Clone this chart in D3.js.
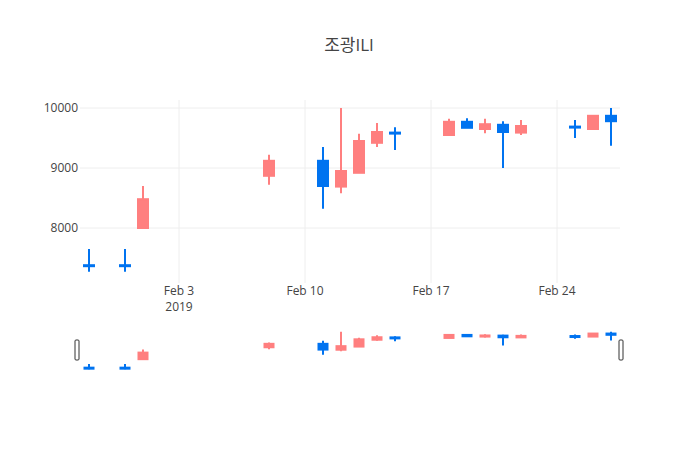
<!DOCTYPE html>
<html>
<head>
<meta charset="utf-8">
<script src="https://cdn.jsdelivr.net/npm/d3@7"></script>
<style>
body { margin: 0; background: #fff; }
text { font-family: "Open Sans", "Noto Sans CJK KR", sans-serif; }
</style>
</head>
<body>
<div id="chart"></div>
<script>
var dates = ["2019-01-29", "2019-01-31", "2019-02-01", "2019-02-08", "2019-02-11", "2019-02-12",
    "2019-02-13", "2019-02-14", "2019-02-15", "2019-02-18", "2019-02-19", "2019-02-20",
    "2019-02-21", "2019-02-22", "2019-02-25", "2019-02-26", "2019-02-27"];
var open =  [7380, 7380, 8000, 8870, 9120, 8690, 8920, 9420, 9590, 9550, 9770, 9650, 9720, 9590, 9690, 9650, 9870];
var high =  [7650, 7650, 8700, 9220, 9350, 10000, 9570, 9750, 9680, 9820, 9830, 9820, 9780, 9800, 9800, 9880, 10000];
var low =   [7270, 7270, 8000, 8720, 8320, 8580, 8920, 9350, 9300, 9540, 9670, 9580, 9000, 9550, 9500, 9640, 9370];
var close = [7370, 7370, 8480, 9120, 8700, 8950, 9450, 9600, 9580, 9770, 9670, 9730, 9600, 9700, 9680, 9870, 9780];
var yTicks = [8000, 9000, 10000];
var xTicks = ["2019-02-03", "2019-02-10", "2019-02-17", "2019-02-24"];

var width = 700, height = 450;
var upColor = "#ff7f7f", downColor = "#0073f0";
var parse = d3.timeParse("%Y-%m-%d");

var data = dates.map(function (d, i) {
    return { date: parse(d), o: open[i], h: high[i], l: low[i], c: close[i] };
});

var svg = d3.select("#chart").append("svg")
    .attr("width", width)
    .attr("height", height);

var x = d3.scaleTime()
    .domain([new Date(2019, 0, 28, 12), new Date(2019, 1, 27, 12)])
    .range([80, 620]);
var y = d3.scaleLinear().domain([7210, 10130]).range([275.4, 100.2]);
var ys = d3.scaleLinear().domain([7210, 10130]).range([370, 330]);

// grid
svg.selectAll(".gy").data(yTicks).enter().append("line")
    .attr("x1", 80).attr("x2", 620)
    .attr("y1", function (d) { return y(d); }).attr("y2", function (d) { return y(d); })
    .attr("stroke", "#eee");
svg.selectAll(".gx").data(xTicks).enter().append("line")
    .attr("x1", function (d) { return x(parse(d)); }).attr("x2", function (d) { return x(parse(d)); })
    .attr("y1", 100).attr("y2", 283)
    .attr("stroke", "#eee");

svg.selectAll(".ty").data(yTicks).enter().append("text")
    .attr("x", 78).attr("y", function (d) { return y(d) + 4; })
    .attr("text-anchor", "end").attr("font-size", 12).attr("fill", "#444")
    .text(function (d) { return d; });
svg.selectAll(".tx").data(xTicks).enter().append("text")
    .attr("x", function (d) { return x(parse(d)); }).attr("y", 295)
    .attr("text-anchor", "middle").attr("font-size", 12).attr("fill", "#444")
    .text(function (d) { return d3.timeFormat("%b %-d")(parse(d)); });
svg.append("text")
    .attr("x", x(parse(xTicks[0]))).attr("y", 311)
    .attr("text-anchor", "middle").attr("font-size", 12).attr("fill", "#444")
    .text("2019");

svg.append("text")
    .attr("x", 349).attr("y", 51)
    .attr("text-anchor", "middle").attr("font-size", 17).attr("fill", "#444")
    .text("조광ILI");

function drawCandles(g, ys, bw) {
    var c = g.selectAll("g").data(data).enter().append("g")
        .attr("stroke", function (d) { return d.c >= d.o ? upColor : downColor; })
        .attr("fill", function (d) { return d.c >= d.o ? upColor : downColor; });
    c.append("line")
        .attr("x1", function (d) { return x(d.date); }).attr("x2", function (d) { return x(d.date); })
        .attr("y1", function (d) { return ys(d.h); }).attr("y2", function (d) { return ys(d.l); })
        .attr("stroke-width", 2);
    c.append("rect")
        .attr("x", function (d) { return x(d.date) - bw / 2; })
        .attr("width", bw)
        .attr("y", function (d) { return ys(Math.max(d.o, d.c)); })
        .attr("height", function (d) { return Math.max(1, Math.abs(ys(d.o) - ys(d.c))); })
        .attr("stroke-width", 2);
}

drawCandles(svg.append("g"), y, 10);
drawCandles(svg.append("g"), ys, 9);

// range slider handles
[77, 621].forEach(function (hx) {
    svg.append("rect")
        .attr("x", hx - 2).attr("y", 340).attr("width", 4).attr("height", 20)
        .attr("rx", 1).attr("fill", "#fff").attr("stroke", "#333").attr("stroke-width", 1);
});
</script>
</body>
</html>
